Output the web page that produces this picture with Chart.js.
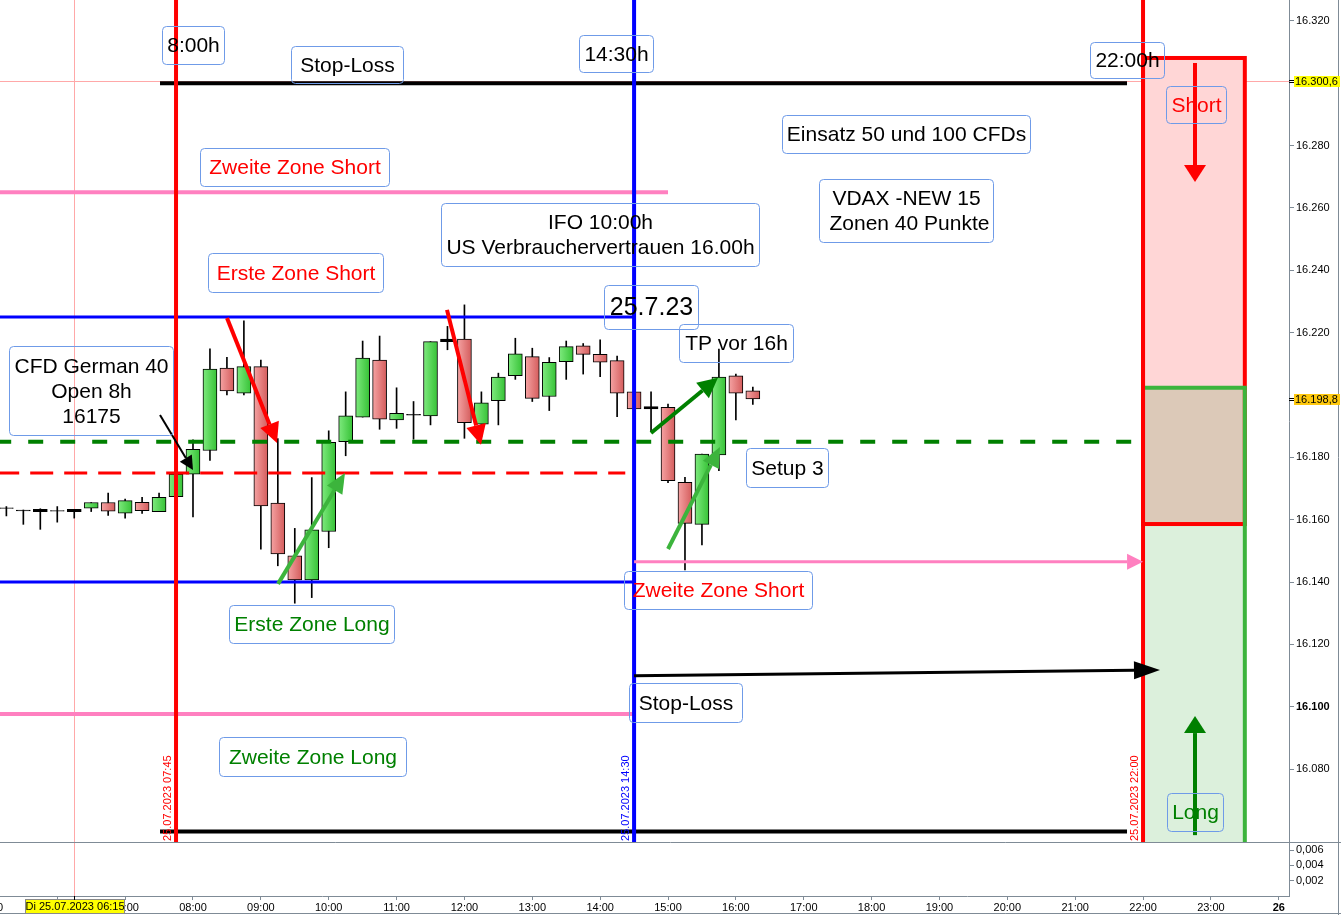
<!DOCTYPE html>
<html>
<head>
<meta charset="utf-8">
<script src="https://cdn.jsdelivr.net/npm/chart.js@4.4.0/dist/chart.umd.min.js"></script>
<style>
  html, body { margin: 0; padding: 0; background: #fff; }
  #wrap { width: 1341px; height: 915px; }
</style>
</head>
<body>
<div id="wrap"><canvas id="c" width="1341" height="915"></canvas></div>
<script>
// 15-Minuten-Kerzen CFD German 40, 25.07.2023
const times = ['05:15','05:30','05:45','06:00','06:15','06:30','06:45','07:00','07:15','07:30','07:45',
  '08:00','08:15','08:30','08:45','09:00','09:15','09:30','09:45','10:00','10:15','10:30','10:45',
  '11:00','11:15','11:30','11:45','12:00','12:15','12:30','12:45','13:00','13:15','13:30','13:45',
  '14:00','14:15','14:30','14:45','15:00','15:15','15:30','15:45','16:00','16:15'];
const opens = [16163.8,16163.1,16163.3,16162.9,16163.3,16163.7,16165.5,16162.1,16165.6,16162.6,16167.4,
  16174.6,16182.2,16208.6,16200.6,16209.1,16165.3,16148.4,16140.7,16156.2,16185.0,16192.9,16211.2,
  16192.0,16193.8,16193.3,16217.9,16217.9,16190.6,16198.2,16206.2,16212.3,16199.5,16210.7,16215.8,
  16213.0,16211.0,16201.0,16196.3,16196.0,16172.0,16158.5,16180.8,16206.1,16201.3];
const highs = [16164.2,16163.1,16163.5,16164.2,16163.3,16165.5,16168.5,16166.6,16167.2,16168.5,16174.6,
  16185.6,16214.8,16212.1,16223.8,16211.2,16186.0,16157.2,16173.5,16188.5,16201.0,16217.3,16218.9,
  16202.3,16197.9,16217.1,16222.0,16228.9,16201.0,16207.0,16218.2,16215.0,16212.0,16217.3,16216.5,
  16217.7,16212.5,16202.0,16201.0,16197.1,16173.6,16181.0,16214.7,16206.7,16202.5];
const lows = [16161.2,16158.5,16156.9,16159.2,16160.5,16162.6,16161.4,16160.5,16162.0,16162.6,16167.4,
  16160.9,16179.0,16200.0,16200.0,16150.5,16145.2,16133.2,16135.0,16151.0,16180.5,16192.9,16189.0,
  16189.3,16185.8,16190.4,16214.5,16186.1,16186.6,16190.4,16205.0,16197.9,16195.0,16205.0,16206.7,
  16205.9,16193.0,16195.0,16188.3,16171.9,16143.9,16151.9,16175.7,16192.0,16197.0];
const closes = [16163.6,16162.8,16162.6,16162.7,16162.6,16165.5,16162.7,16166.1,16162.9,16167.2,16174.6,
  16182.6,16208.3,16201.3,16209.1,16164.4,16149.0,16140.7,16156.7,16184.8,16193.3,16211.8,16192.2,
  16194.1,16193.5,16217.1,16217.1,16191.1,16197.5,16205.7,16213.2,16198.9,16210.5,16215.5,16213.0,
  16210.5,16200.6,16195.5,16195.5,16172.5,16158.8,16181.0,16205.7,16200.6,16198.7];

// Achsen
const hourTicks = [5,6,7,8,9,10,11,12,13,14,15,16,17,18,19,20,21,22,23,24];
const hourLabels = ['05:00','06:00','07:00','08:00','09:00','10:00','11:00','12:00','13:00','14:00',
  '15:00','16:00','17:00','18:00','19:00','20:00','21:00','22:00','23:00','26'];
const priceTicks = [16320,16280,16260,16240,16220,16180,16160,16140,16120,16100,16080];
const priceTickLabels = ['16.320','16.280','16.260','16.240','16.220','16.180','16.160','16.140','16.120','16.100','16.080'];
const lowerTicks = [0.002,0.004,0.006];
const lowerTickLabels = ['0,002','0,004','0,006'];

// Linien (Preis, von, bis in Stunden)
const levelPrices = [16300, 16265, 16225, 16185, 16175, 16140, 16097.7, 16060];
const levelFrom   = [7.514, 5.1, 5.1, 5.1, 5.1, 5.1, 5.1, 7.514];
const levelTo     = [21.764, 15.0, 14.5, 22.0, 14.37, 14.5, 14.5, 21.764];
const levelStyles = [
  { color: '#000000', width: 4, dash: [] },
  { color: '#ff80c0', width: 4, dash: [] },
  { color: '#0000ff', width: 3, dash: [] },
  { color: '#008000', width: 4, dash: [15, 17] },
  { color: '#ff0000', width: 3, dash: [23, 11] },
  { color: '#0000ff', width: 3, dash: [] },
  { color: '#ff80c0', width: 4, dash: [] },
  { color: '#000000', width: 4, dash: [] }
];

const hours = times.map(s => { const p = s.split(':'); return +p[0] + p[1] / 60; });

const vLines = [
  { t: 7.75, color: '#ff0000', text: '25.07.2023 07:45' },
  { t: 14.5, color: '#0000ff', text: '25.07.2023 14:30' },
  { t: 22.0, color: '#ff0000', text: '25.07.2023 22:00' }
];

const arrows = [
  { t1: 8.501, v1: 16224.7, t2: 9.238, v2: 16184.6, color: '#ff0000', w: 4, hl: 20, hw: 10 },
  { t1: 11.743, v1: 16227.3, t2: 12.244, v2: 16184.0, color: '#ff0000', w: 4, hl: 20, hw: 10 },
  { t1: 7.514, v1: 16193.6, t2: 8.0, v2: 16175.9, color: '#000000', w: 2, hl: 14, hw: 7 },
  { t1: 9.253, v1: 16139.4, t2: 10.24, v2: 16175.0, color: '#3cb43c', w: 4, hl: 20, hw: 9 },
  { t1: 14.749, v1: 16187.8, t2: 15.736, v2: 16205.5, color: '#008000', w: 4, hl: 20, hw: 10 },
  { t1: 15.0, v1: 16150.6, t2: 15.766, v2: 16183.3, color: '#3cb43c', w: 4, hl: 20, hw: 9 },
  { t1: 14.5, v1: 16146.5, t2: 22.0, v2: 16146.5, color: '#ff80c0', w: 3, hl: 16, hw: 8 },
  { t1: 14.5, v1: 16109.9, t2: 22.25, v2: 16111.8, color: '#000000', w: 3, hl: 26, hw: 9 },
  { t1: 22.766, v1: 16306.5, t2: 22.766, v2: 16268.3, color: '#ff0000', w: 4, hl: 17, hw: 11 },
  { t1: 22.766, v1: 16058.8, t2: 22.766, v2: 16097.0, color: '#008000', w: 4, hl: 17, hw: 11 }
];

const notes = [
  { t1: 7.543, v1: 16318.4, t2: 8.457, v2: 16306.2, lines: ['8:00h'], color: '#000' },
  { t1: 9.444, v1: 16312.0, t2: 11.095, v2: 16300.1, lines: ['Stop-Loss'], color: '#000' },
  { t1: 13.688, v1: 16315.5, t2: 14.779, v2: 16303.6, lines: ['14:30h'], color: '#000' },
  { t1: 21.218, v1: 16313.3, t2: 22.309, v2: 16301.7, lines: ['22:00h'], color: '#000' },
  { t1: 22.338, v1: 16299.1, t2: 23.222, v2: 16287.3, lines: ['Short'], color: '#ff0000' },
  { t1: 16.68, v1: 16289.8, t2: 20.334, v2: 16277.7, lines: ['Einsatz 50 und 100 CFDs'], color: '#000' },
  { t1: 8.103, v1: 16279.3, t2: 10.888, v2: 16267.1, lines: ['Zweite Zone Short'], color: '#ff0000' },
  { t1: 17.225, v1: 16269.3, t2: 19.789, v2: 16249.1, lines: ['VDAX -NEW 15', ' Zonen 40 Punkte'], color: '#000' },
  { t1: 11.655, v1: 16261.6, t2: 16.341, v2: 16241.4, lines: ['IFO 10:00h', 'US Verbrauchervertrauen 16.00h'], color: '#000' },
  { t1: 8.221, v1: 16245.6, t2: 10.8, v2: 16233.1, lines: ['Erste Zone Short'], color: '#ff0000' },
  { t1: 14.057, v1: 16235.3, t2: 15.442, v2: 16221.2, lines: ['25.7.23'], color: '#000', size: 25 },
  { t1: 15.162, v1: 16222.8, t2: 16.842, v2: 16210.6, lines: ['TP vor 16h'], color: '#000' },
  { t1: 5.289, v1: 16215.7, t2: 7.705, v2: 16187.2, lines: ['CFD German 40', 'Open 8h', '16175'], color: '#000' },
  { t1: 16.149, v1: 16183.0, t2: 17.357, v2: 16170.5, lines: ['Setup 3'], color: '#000' },
  { t1: 14.351, v1: 16143.5, t2: 17.122, v2: 16131.4, lines: ['Zweite Zone Short'], color: '#ff0000' },
  { t1: 8.53, v1: 16132.6, t2: 10.962, v2: 16120.4, lines: ['Erste Zone Long'], color: '#008000' },
  { t1: 14.425, v1: 16107.6, t2: 16.09, v2: 16095.1, lines: ['Stop-Loss'], color: '#000' },
  { t1: 8.383, v1: 16090.3, t2: 11.139, v2: 16077.8, lines: ['Zweite Zone Long'], color: '#008000' },
  { t1: 22.353, v1: 16072.3, t2: 23.178, v2: 16060.1, lines: ['Long'], color: '#008000' }
];

const FONT = '"Liberation Sans", Arial, sans-serif';
const AXIS_GRAY = '#7f8b96';

function bodyColor(c) {
  const i = c.dataIndex;
  if (Math.abs(closes[i] - opens[i]) < 1) return '#000000';
  const up = closes[i] > opens[i];
  const chart = c.chart;
  const xs = chart.scales && chart.scales.x;
  if (!xs || !chart.chartArea) return up ? '#55d455' : '#e57a7a';
  const px = xs.getPixelForValue(hours[i]);
  const g = chart.ctx.createLinearGradient(px - 7, 0, px + 7, 0);
  if (up) { g.addColorStop(0, '#7eea7e'); g.addColorStop(1, '#36c236'); }
  else { g.addColorStop(0, '#f5a3a3'); g.addColorStop(1, '#d45c5c'); }
  return g;
}

function roundRect(ctx, x, y, w, h, r) {
  ctx.beginPath();
  ctx.moveTo(x + r, y);
  ctx.lineTo(x + w - r, y);
  ctx.arcTo(x + w, y, x + w, y + r, r);
  ctx.lineTo(x + w, y + h - r);
  ctx.arcTo(x + w, y + h, x + w - r, y + h, r);
  ctx.lineTo(x + r, y + h);
  ctx.arcTo(x, y + h, x, y + h - r, r);
  ctx.lineTo(x, y + r);
  ctx.arcTo(x, y, x + r, y, r);
  ctx.closePath();
}

function drawArrow(ctx, x1, y1, x2, y2, color, w, hl, hw) {
  const a = Math.atan2(y2 - y1, x2 - x1);
  const bx = x2 - hl * Math.cos(a), by = y2 - hl * Math.sin(a);
  ctx.strokeStyle = color; ctx.fillStyle = color; ctx.lineWidth = w; ctx.lineCap = 'butt';
  ctx.beginPath(); ctx.moveTo(x1, y1); ctx.lineTo(bx, by); ctx.stroke();
  ctx.beginPath();
  ctx.moveTo(x2, y2);
  ctx.lineTo(bx + hw * Math.sin(a), by - hw * Math.cos(a));
  ctx.lineTo(bx - hw * Math.sin(a), by + hw * Math.cos(a));
  ctx.closePath(); ctx.fill();
}

const drawings = {
  id: 'drawings',
  beforeDatasetsDraw(chart) {
    const ctx = chart.ctx, xs = chart.scales.x, ys = chart.scales.y, a = chart.chartArea;
    ctx.save();
    // Fadenkreuz
    ctx.strokeStyle = '#ffa8a8'; ctx.lineWidth = 1;
    const cy = Math.round(ys.getPixelForValue(16300.6)) + 0.5;
    ctx.beginPath(); ctx.moveTo(a.left, cy); ctx.lineTo(a.right, cy); ctx.stroke();
    const cx = Math.round(xs.getPixelForValue(6.25)) + 0.5;
    ctx.beginPath(); ctx.moveTo(cx, a.top); ctx.lineTo(cx, a.bottom); ctx.stroke();
    ctx.restore();
  },
  afterDatasetsDraw(chart) {
    const ctx = chart.ctx, xs = chart.scales.x, ys = chart.scales.y;
    const X = t => xs.getPixelForValue(t), Y = v => ys.getPixelForValue(v);
    ctx.save();
    ctx.beginPath(); ctx.rect(xs.left, ys.top, xs.right - xs.left, ys.bottom - ys.top); ctx.clip();

    // Short / Long Zonen rechts
    const rx1 = X(22), rx2 = X(23.5);
    const rTop = Y(16308.1), rBot = Y(16158.6), gTop = Y(16202.3), gBot = ys.bottom + 10;
    ctx.fillStyle = '#ffd6d6'; ctx.fillRect(rx1, rTop, rx2 - rx1, rBot - rTop);
    ctx.globalCompositeOperation = 'multiply';
    ctx.fillStyle = '#dcf0dc'; ctx.fillRect(rx1, gTop, rx2 - rx1, gBot - gTop);
    ctx.globalCompositeOperation = 'source-over';
    ctx.lineWidth = 4; ctx.strokeStyle = '#ff0000';
    ctx.strokeRect(rx1, rTop, rx2 - rx1, rBot - rTop);
    ctx.strokeStyle = '#3cb43c';
    ctx.beginPath(); ctx.moveTo(rx1, gTop); ctx.lineTo(rx2, gTop); ctx.lineTo(rx2, gBot); ctx.stroke();

    // senkrechte Zeitlinien
    vLines.forEach(l => {
      const x = X(l.t);
      ctx.strokeStyle = l.color; ctx.lineWidth = 4;
      ctx.beginPath(); ctx.moveTo(x, ys.top); ctx.lineTo(x, ys.bottom); ctx.stroke();
    });

    // Pfeile
    arrows.forEach(p => drawArrow(ctx, X(p.t1), Y(p.v1), X(p.t2), Y(p.v2), p.color, p.w, p.hl, p.hw));

    // Textboxen
    notes.forEach(n => {
      const x1 = Math.round(X(n.t1)) + 0.5, x2 = Math.round(X(n.t2)) + 0.5;
      const y1 = Math.round(Y(n.v1)) + 0.5, y2 = Math.round(Y(n.v2)) + 0.5;
      ctx.strokeStyle = '#6f9be8'; ctx.lineWidth = 1;
      roundRect(ctx, x1, y1, x2 - x1, y2 - y1, 4); ctx.stroke();
      const size = n.size || 21, lh = 25;
      ctx.font = size + 'px ' + FONT; ctx.fillStyle = n.color;
      ctx.textAlign = 'center'; ctx.textBaseline = 'middle';
      const cxm = (x1 + x2) / 2, cym = (y1 + y2) / 2 + 1;
      n.lines.forEach((s, k) => {
        ctx.fillText(s, cxm, cym + (k - (n.lines.length - 1) / 2) * lh);
      });
    });

    // Datumsbeschriftung an den Zeitlinien
    ctx.font = '11px ' + FONT; ctx.textAlign = 'left'; ctx.textBaseline = 'middle';
    vLines.forEach(l => {
      ctx.save();
      ctx.translate(X(l.t) - 8, ys.bottom - 1);
      ctx.rotate(-Math.PI / 2);
      ctx.fillStyle = l.color; ctx.fillText(l.text, 0, 0);
      ctx.restore();
    });
    ctx.restore();
  },
  afterDraw(chart) {
    const ctx = chart.ctx, xs = chart.scales.x, ys = chart.scales.y, a = chart.chartArea;
    ctx.save();
    // Rahmen und Trennlinie
    ctx.strokeStyle = AXIS_GRAY; ctx.lineWidth = 1;
    const sep = Math.round(ys.bottom) + 0.5;
    ctx.beginPath(); ctx.moveTo(0, sep); ctx.lineTo(1341, sep); ctx.stroke();
    ctx.beginPath(); ctx.moveTo(1338.5, 0); ctx.lineTo(1338.5, 915); ctx.stroke();
    ctx.beginPath(); ctx.moveTo(0, 913.5); ctx.lineTo(1341, 913.5); ctx.stroke();
    // Fadenkreuz im unteren Fenster
    ctx.strokeStyle = '#ffa8a8';
    const cx = Math.round(xs.getPixelForValue(6.25)) + 0.5;
    ctx.beginPath(); ctx.moveTo(cx, sep + 1); ctx.lineTo(cx, a.bottom); ctx.stroke();

    // Preismarken an der Achse
    const marks = [{ v: 16300.6, s: '16.300,6', bg: '#ffff00' }, { v: 16198.8, s: '16.198,8', bg: '#ffc90e' }];
    ctx.font = '11px ' + FONT; ctx.textBaseline = 'middle'; ctx.textAlign = 'left';
    marks.forEach(m => {
      const y = Math.round(ys.getPixelForValue(m.v));
      ctx.fillStyle = m.bg; ctx.fillRect(a.right + 5, y - 5, 46, 11);
      ctx.fillStyle = '#000'; ctx.fillRect(a.right, y - 1, 5, 1); ctx.fillRect(a.right, y + 1, 5, 1);
      ctx.fillText(m.s, a.right + 6, y + 0.5);
    });

    // Zeitmarke Fadenkreuz
    ctx.fillStyle = '#ffff00'; ctx.fillRect(25, 899, 100, 15);
    ctx.strokeStyle = '#8a8a8a'; ctx.strokeRect(25.5, 899.5, 99, 14);
    ctx.fillStyle = '#000'; ctx.textAlign = 'center';
    ctx.fillText('Di 25.07.2023 06:15', 75, 907);
    ctx.fillRect(cx - 0.5, a.bottom, 1, 4);
    ctx.restore();
  }
};

const levelSets = levelPrices.map((v, i) => ({
  type: 'line',
  data: [{ x: levelFrom[i], y: v }, { x: levelTo[i], y: v }],
  borderColor: levelStyles[i].color,
  borderWidth: levelStyles[i].width,
  borderDash: levelStyles[i].dash,
  borderCapStyle: 'butt',
  pointRadius: 0,
  yAxisID: 'y',
  order: 0
}));

new Chart(document.getElementById('c'), {
  type: 'bar',
  data: {
    datasets: [
      {
        label: 'Körper',
        data: hours.map((h, i) => ({ x: h, y: [opens[i], closes[i]] })),
        backgroundColor: bodyColor,
        borderColor: '#000000',
        borderWidth: 1,
        borderSkipped: false,
        barThickness: 14,
        grouped: false,
        yAxisID: 'y',
        order: 1
      },
      {
        label: 'Docht',
        data: hours.map((h, i) => ({ x: h, y: [lows[i], highs[i]] })),
        backgroundColor: '#000000',
        borderWidth: 0,
        barThickness: 1,
        grouped: false,
        yAxisID: 'y',
        order: 2
      }
    ].concat(levelSets)
  },
  options: {
    responsive: false,
    animation: false,
    events: [],
    layout: { padding: 0 },
    plugins: { legend: { display: false }, tooltip: { enabled: false } },
    scales: {
      x: {
        type: 'linear',
        min: 5.156, max: 24.151,
        offset: false,
        grid: { drawOnChartArea: false, offset: false, tickLength: 4, color: AXIS_GRAY },
        border: { color: AXIS_GRAY },
        afterBuildTicks: s => { s.ticks = hourTicks.map(v => ({ value: v })); },
        afterFit: s => { s.height = 19; s.paddingLeft = 0; s.paddingRight = 0; },
        ticks: {
          autoSkip: false, maxRotation: 0, padding: 1, color: '#000',
          font: c => ({ family: FONT, size: 11, weight: c.tick && c.tick.value === 24 ? 'bold' : 'normal' }),
          callback: (v) => hourLabels[hourTicks.indexOf(v)]
        }
      },
      y: {
        type: 'linear', position: 'right', stack: 'pane', stackWeight: 842,
        min: 16056.6, max: 16326.7,
        grid: { drawOnChartArea: false, tickLength: 5, color: AXIS_GRAY },
        border: { color: AXIS_GRAY },
        afterBuildTicks: s => { s.ticks = priceTicks.map(v => ({ value: v })); },
        afterFit: s => { s.width = 52; s.paddingTop = 0; s.paddingBottom = 0; },
        ticks: {
          autoSkip: false, padding: 2, color: '#000',
          font: c => ({ family: FONT, size: 11, weight: c.tick && c.tick.value === 16100 ? 'bold' : 'normal' }),
          callback: (v) => priceTickLabels[priceTicks.indexOf(v)]
        }
      },
      y2: {
        type: 'linear', position: 'right', stack: 'pane', stackWeight: 54,
        min: 0, max: 0.00707,
        grid: { drawOnChartArea: false, tickLength: 5, color: AXIS_GRAY },
        border: { color: AXIS_GRAY },
        afterBuildTicks: s => { s.ticks = lowerTicks.map(v => ({ value: v })); },
        afterFit: s => { s.width = 52; s.paddingTop = 0; s.paddingBottom = 0; },
        ticks: {
          autoSkip: false, padding: 2, color: '#000', font: { family: FONT, size: 11 },
          callback: (v) => lowerTickLabels[lowerTicks.indexOf(v)]
        }
      }
    }
  },
  plugins: [drawings]
});
</script>
</body>
</html>
